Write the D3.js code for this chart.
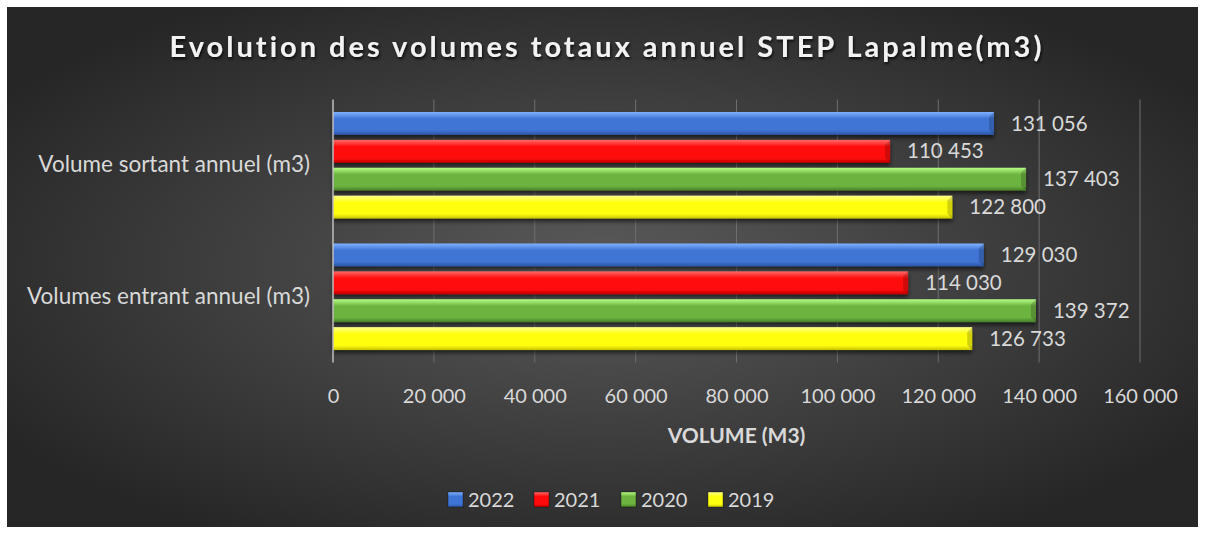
<!DOCTYPE html>
<html>
<head>
<meta charset="utf-8">
<script src="https://cdn.jsdelivr.net/npm/d3@7"></script>
<style>
	html, body { margin: 0; padding: 0; background: #fff; }
	svg { display: block; }
	text { font-family: Lato, "Open Sans", sans-serif; }
</style>
</head>
<body>
<svg id="chart"></svg>
<script>
// data.........................................................................

var categories = ["Volume sortant annuel (m3)", "Volumes entrant annuel (m3)"],
	years = ["2022", "2021", "2020", "2019"],
	values2022 = [131056, 129030],
	values2021 = [110453, 114030],
	values2020 = [137403, 139372],
	values2019 = [122800, 126733],
	xTicks = [0, 20000, 40000, 60000, 80000, 100000, 120000, 140000, 160000],
	title = "Evolution des volumes totaux annuel STEP Lapalme(m3)",
	xTitle = "VOLUME (M3)";

var series = [values2022, values2021, values2020, values2019],
	colors = {
		"2022": ["#7fb2ff", "#3f74d6", "#2c55a4"],
		"2021": ["#ff6a6a", "#ff0a0a", "#c20000"],
		"2020": ["#b6ff85", "#6cb340", "#467f27"],
		"2019": ["#ffff8c", "#ffff10", "#c9c400"]
	};

// layout.......................................................................

var width = 1205, height = 534,
	plot = {left: 333, right: 1140, top: 99.5, bottom: 362.5},
	fmt = function(v) { return d3.format(",")(v).replace(/,/g, " "); };

var svg = d3.select("#chart")
	.attr("width", width)
	.attr("height", height);

var defs = svg.append("defs");

var bg = defs.append("radialGradient")
	.attr("id", "bg")
	.attr("cx", "50%").attr("cy", "50%").attr("r", "60%");
bg.append("stop").attr("offset", "0%").attr("stop-color", "#5a5a5a");
bg.append("stop").attr("offset", "100%").attr("stop-color", "#262626");

years.forEach(function(y) {
	var g = defs.append("linearGradient")
		.attr("id", "g" + y)
		.attr("x1", 0).attr("y1", 0).attr("x2", 0).attr("y2", 1);
	g.append("stop").attr("offset", "0%").attr("stop-color", colors[y][0]);
	g.append("stop").attr("offset", "30%").attr("stop-color", colors[y][1]);
	g.append("stop").attr("offset", "80%").attr("stop-color", colors[y][1]);
	g.append("stop").attr("offset", "100%").attr("stop-color", colors[y][2]);
});

var shadow = defs.append("filter").attr("id", "shadow")
	.attr("x", "-5%").attr("y", "-20%").attr("width", "110%").attr("height", "160%");
shadow.append("feDropShadow")
	.attr("dx", 0).attr("dy", 3).attr("stdDeviation", 2)
	.attr("flood-color", "#000").attr("flood-opacity", 0.6);

var tshadow = defs.append("filter").attr("id", "tshadow");
tshadow.append("feDropShadow")
	.attr("dx", 1).attr("dy", 2).attr("stdDeviation", 1.5)
	.attr("flood-color", "#000").attr("flood-opacity", 0.8);

// background
svg.append("rect")
	.attr("x", 7).attr("y", 7)
	.attr("width", width - 14).attr("height", height - 14)
	.attr("fill", "url(#bg)");

// scales.......................................................................

var x = d3.scaleLinear()
	.domain([0, 160000])
	.range([plot.left, plot.right]);

var y0 = d3.scaleBand()
	.domain(categories)
	.range([plot.top, plot.bottom])
	.paddingInner(0.19)
	.paddingOuter(0.095);

var y1 = d3.scaleBand()
	.domain(years)
	.range([0, y0.bandwidth()])
	.paddingInner(0.18);

// gridlines
svg.append("g")
	.selectAll("line")
	.data(xTicks.slice(1))
	.enter().append("line")
		.attr("x1", function(d) { return x(d); })
		.attr("x2", function(d) { return x(d); })
		.attr("y1", plot.top)
		.attr("y2", plot.bottom)
		.attr("stroke", "#6e6e6e")
		.attr("stroke-width", 1);

// x axis labels
var xAxis = svg.append("g")
	.attr("transform", "translate(0," + 396 + ")")
	.call(d3.axisBottom(x).tickValues(xTicks).tickSize(0).tickPadding(0).tickFormat(fmt));
xAxis.select(".domain").remove();
xAxis.selectAll("text")
	.attr("dy", "0.35em")
	.attr("fill", "#d9d9d9")
	.style("font-size", "20px")
	.style("font-family", "Lato, sans-serif");

svg.append("text")
	.attr("x", x(80000))
	.attr("y", 436)
	.attr("dy", "0.35em")
	.attr("text-anchor", "middle")
	.attr("fill", "#d9d9d9")
	.style("font-size", "21px")
	.style("font-weight", "bold")
	.text(xTitle);

// y axis labels
var yAxis = svg.append("g")
	.attr("transform", "translate(310,0)")
	.call(d3.axisLeft(y0).tickSize(0).tickPadding(0));
yAxis.select(".domain").remove();
yAxis.selectAll("text")
	.attr("fill", "#d9d9d9")
	.style("font-size", "22.5px")
	.style("font-family", "Lato, sans-serif");

// bars.........................................................................

var rows = [];
categories.forEach(function(c, i) {
	years.forEach(function(yr, j) {
		rows.push({cat: c, year: yr, value: series[j][i]});
	});
});

var bars = svg.append("g");

bars.selectAll("rect")
	.data(rows)
	.enter().append("rect")
		.attr("x", x(0))
		.attr("y", function(d) { return y0(d.cat) + y1(d.year); })
		.attr("width", function(d) { return x(d.value) - x(0); })
		.attr("height", y1.bandwidth())
		.attr("fill", function(d) { return "url(#g" + d.year + ")"; })
		.attr("filter", "url(#shadow)");

// bevel on the bar ends
bars.selectAll("path")
	.data(rows)
	.enter().append("path")
		.attr("d", function(d) {
			var x1 = x(d.value), t = y0(d.cat) + y1(d.year), h = y1.bandwidth(), b = 5;
			return "M" + x1 + "," + t + "L" + (x1 - b) + "," + (t + b) +
				"L" + (x1 - b) + "," + (t + h - b) + "L" + x1 + "," + (t + h) + "Z";
		})
		.attr("fill", "#000")
		.attr("opacity", 0.18);

// axis line
svg.append("line")
	.attr("x1", x(0)).attr("x2", x(0))
	.attr("y1", plot.top).attr("y2", plot.bottom)
	.attr("stroke", "#bfbfbf")
	.attr("stroke-width", 1.5);

// value labels
svg.append("g")
	.selectAll("text")
	.data(rows)
	.enter().append("text")
		.attr("x", function(d) { return x(d.value) + 17; })
		.attr("y", function(d) { return y0(d.cat) + y1(d.year) + y1.bandwidth() / 2; })
		.attr("dy", "0.35em")
		.attr("fill", "#d9d9d9")
		.style("font-size", "20.5px")
		.text(function(d) { return fmt(d.value); });

// title
svg.append("text")
	.attr("x", 607)
	.attr("y", 47)
	.attr("dy", "0.35em")
	.attr("text-anchor", "middle")
	.attr("fill", "#f2f2f2")
	.attr("filter", "url(#tshadow)")
	.style("font-size", "29px")
	.style("font-weight", "bold")
	.style("letter-spacing", "3px")
	.text(title);

// legend
var legendX = [448, 534, 621, 708];
var legend = svg.append("g")
	.selectAll("g")
	.data(years)
	.enter().append("g")
		.attr("transform", function(d, i) { return "translate(" + legendX[i] + ",500)"; });

legend.append("rect")
	.attr("x", 0).attr("y", -8)
	.attr("width", 15).attr("height", 15)
	.attr("fill", function(d) { return "url(#g" + d + ")"; })
	.attr("stroke", "rgba(0,0,0,0.35)");

legend.append("text")
	.attr("x", 20)
	.attr("y", 0)
	.attr("dy", "0.35em")
	.attr("fill", "#d9d9d9")
	.style("font-size", "20px")
	.text(function(d) { return d; });
</script>
</body>
</html>
